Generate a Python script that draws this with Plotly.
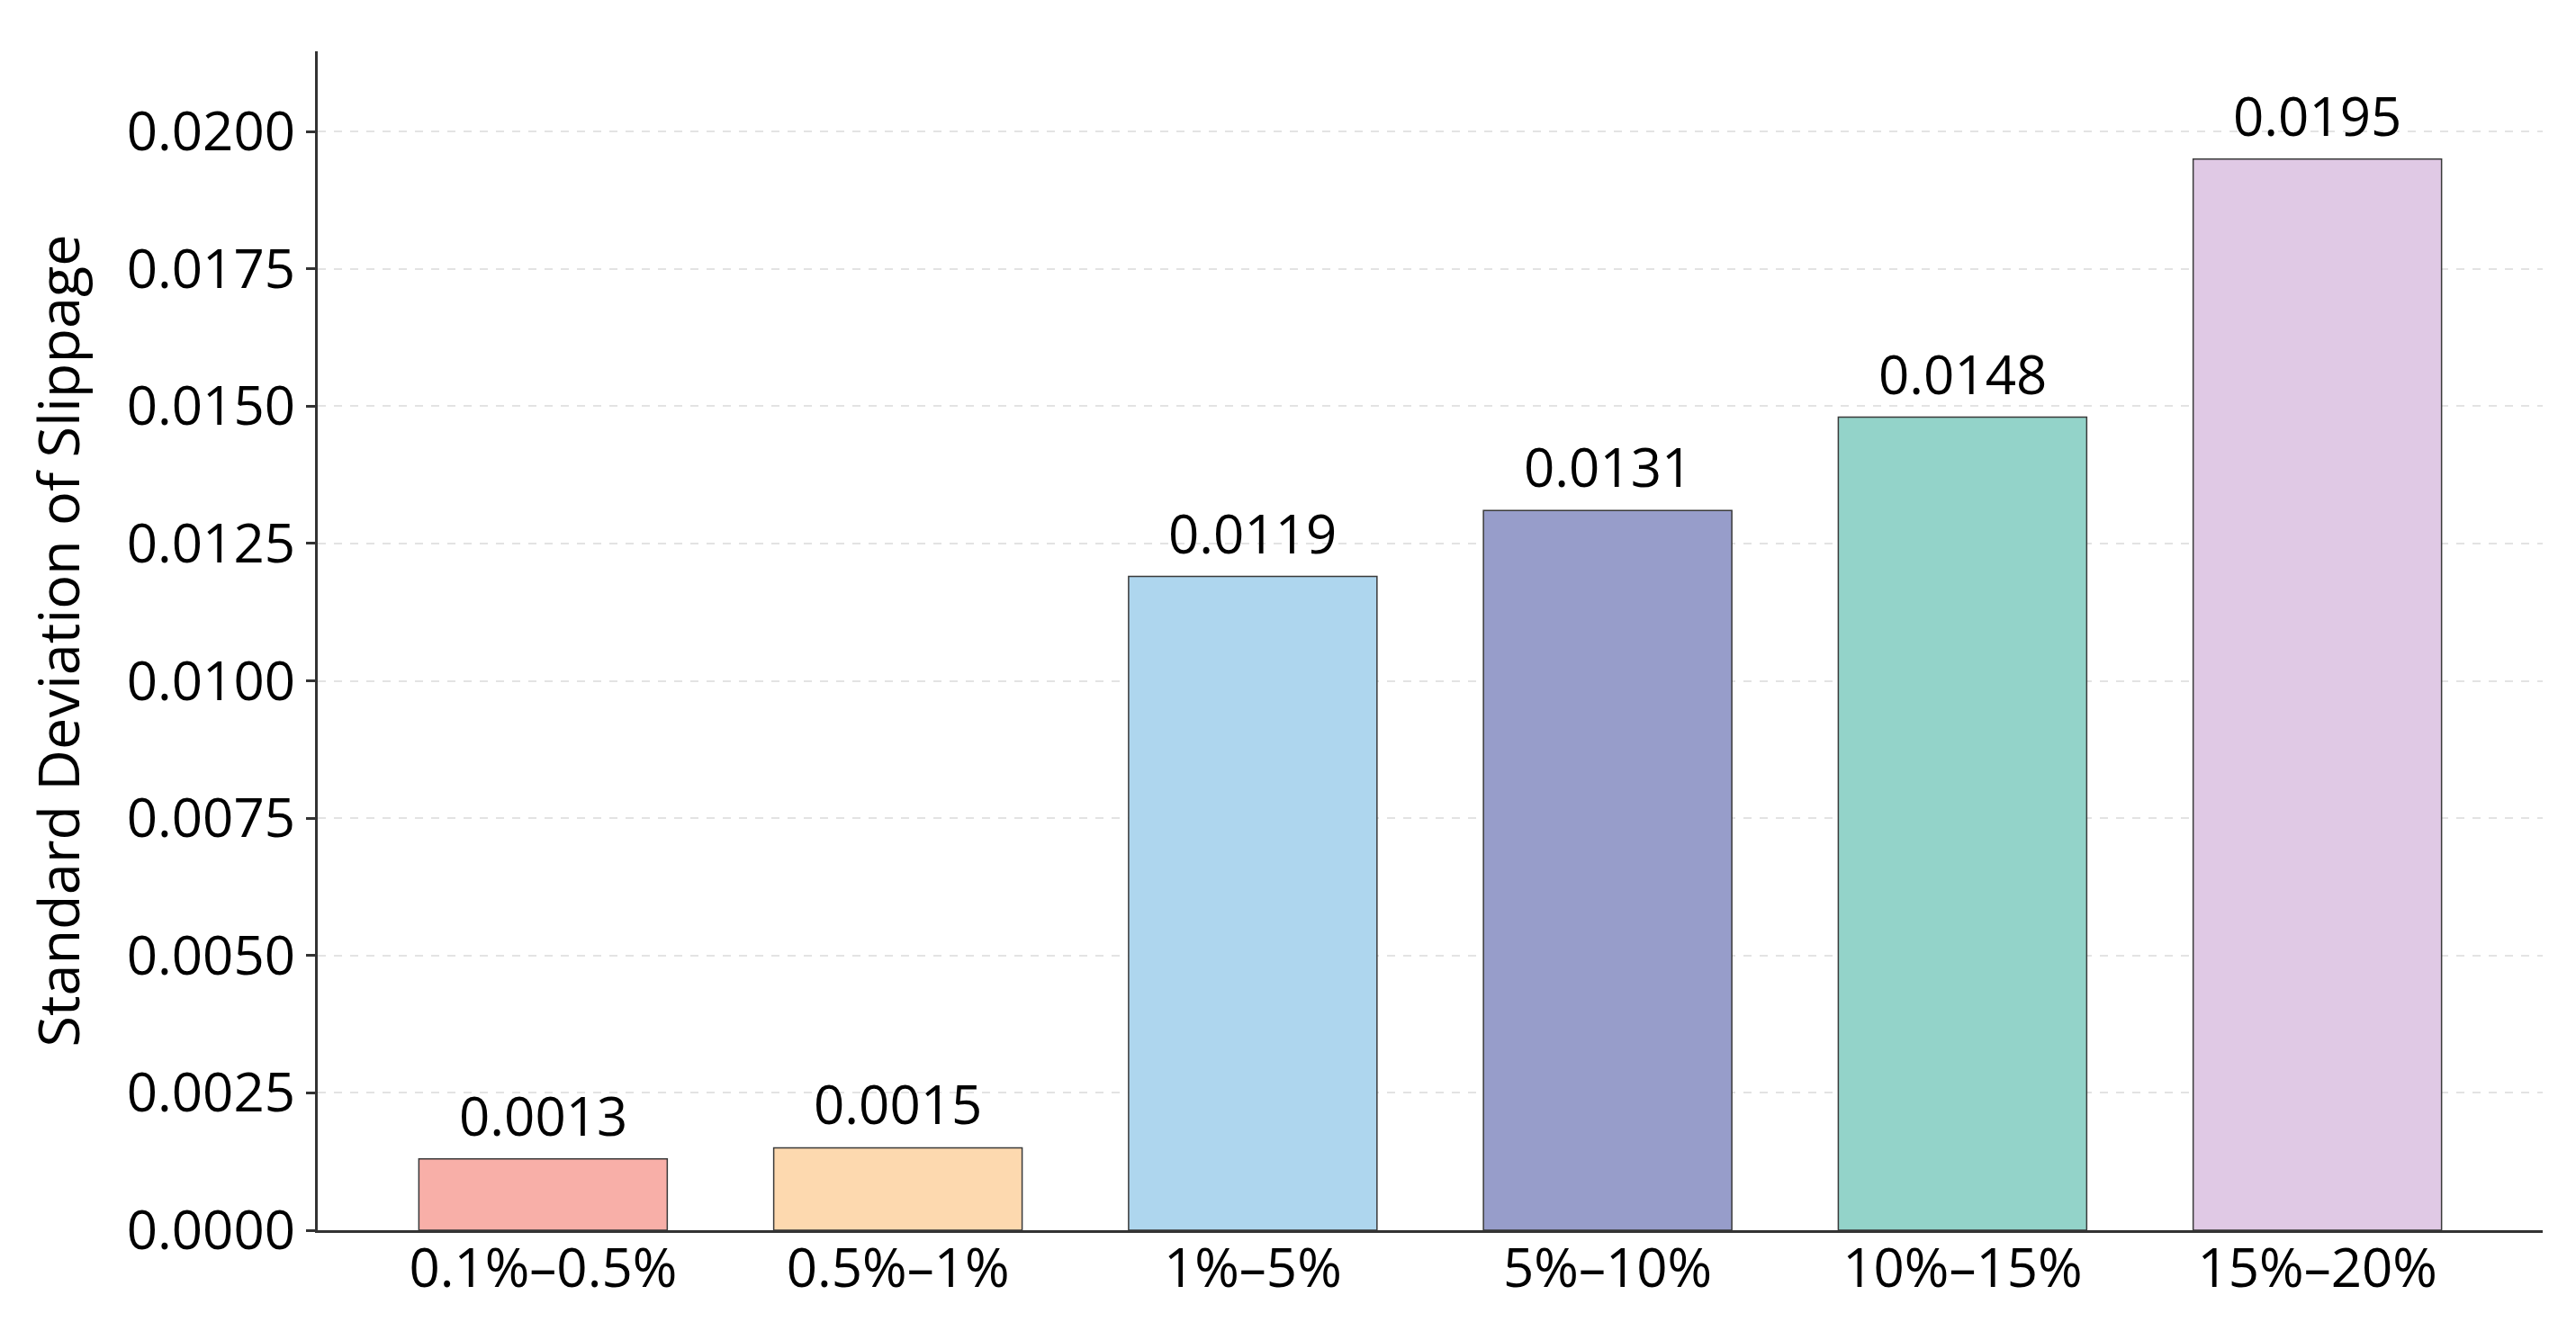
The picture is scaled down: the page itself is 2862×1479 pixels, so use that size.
import plotly.graph_objects as go

categories = ["0.1%–0.5%", "0.5%–1%", "1%–5%", "5%–10%", "10%–15%", "15%–20%"]
std_slippage = [0.0013, 0.0015, 0.0119, 0.0131, 0.0148, 0.0195]
value_labels = ["0.0013", "0.0015", "0.0119", "0.0131", "0.0148", "0.0195"]
bar_colors = ["#F8AFA8", "#FDD9AF", "#AED6EE", "#979DCA", "#93D3C9", "#E0C9E5"]
y_ticks = [0.0, 0.0025, 0.005, 0.0075, 0.01, 0.0125, 0.015, 0.0175, 0.02]
y_tick_labels = ["0.0000", "0.0025", "0.0050", "0.0075", "0.0100", "0.0125", "0.0150", "0.0175", "0.0200"]

FONT = "Open Sans"
FS = 60

x_pos = list(range(len(categories)))

fig = go.Figure()
fig.add_trace(go.Bar(
    x=x_pos, y=std_slippage, width=0.7,
    marker=dict(color=bar_colors, line=dict(color="#3a3a3a", width=1.5)),
    showlegend=False, hoverinfo="skip",
))

for xi, yv, lab in zip(x_pos, std_slippage, value_labels):
    fig.add_annotation(x=xi, y=yv, text=lab, showarrow=False,
                       yanchor="bottom", yshift=6,
                       font=dict(family=FONT, size=FS, color="black"))

fig.update_layout(
    width=2862, height=1479,
    margin=dict(l=353, r=37, t=57, b=112, pad=0),
    plot_bgcolor="white", paper_bgcolor="white",
    font=dict(family=FONT, size=FS, color="black"),
    bargap=0.3,
)
fig.update_xaxes(
    range=[-0.635, 5.635], tickmode="array", tickvals=x_pos, ticktext=categories,
    showline=True, linecolor="#333333", linewidth=3,
    ticks="", showgrid=False, zeroline=False, ticklabelstandoff=-12,
    tickfont=dict(family=FONT, size=FS, color="black"),
)
fig.update_yaxes(
    range=[0, 0.02146], tickmode="array", tickvals=y_ticks, ticktext=y_tick_labels,
    showline=True, linecolor="#333333", linewidth=3,
    ticks="outside", ticklen=10, tickwidth=2.5, tickcolor="#333333",
    showgrid=True, gridcolor="#e3e3e3", gridwidth=2, griddash="dash",
    zeroline=False,
    tickfont=dict(family=FONT, size=FS, color="black"),
    title=dict(text="Standard Deviation of Slippage", font=dict(family=FONT, size=63, color="black"), standoff=32),
)

fig.write_html("out.html")
